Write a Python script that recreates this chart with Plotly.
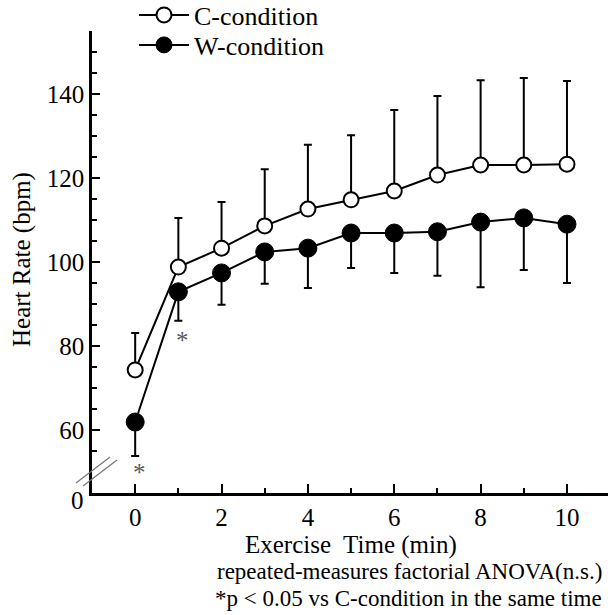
import plotly.graph_objects as go

# ---- data ----
time_min = [0, 1, 2, 3, 4, 5, 6, 7, 8, 9, 10]
c_mean = [74.3, 98.8, 103.3, 108.6, 112.6, 114.8, 116.9, 120.7, 123.1, 123.1, 123.3]
c_sd = [8.8, 11.7, 11.0, 13.5, 15.3, 15.4, 19.3, 18.8, 20.2, 20.7, 19.8]
w_mean = [61.9, 92.9, 97.4, 102.4, 103.3, 106.9, 106.9, 107.2, 109.5, 110.5, 109.0]
w_sd = [8.1, 6.9, 7.6, 7.6, 9.5, 8.3, 9.5, 10.5, 15.5, 12.4, 14.0]
sig_times = [0, 1]
sig_y = [50.0, 81.3]

x_ticks = [0, 2, 4, 6, 8, 10]
x_minor = [1, 3, 5, 7, 9]
y_ticks = [60, 80, 100, 120, 140]
y_minor = [55, 65, 70, 75, 85, 90, 95, 105, 110, 115, 125, 130, 135, 145, 150, 155]

FONT = "Liberation Serif"
zeros = [0] * len(time_min)

L, T, PW, PH = 92, 31, 516, 462


def px(xp):
    return (xp - L) / PW


def py(yp):
    return (T + PH - yp) / PH


fig = go.Figure()
fig.add_trace(go.Scatter(
    x=time_min, y=w_mean, name="W-condition", mode="lines+markers", legend="legend2",
    line=dict(color="black", width=2),
    marker=dict(symbol="circle", size=18, color="black", line=dict(color="black", width=1)),
    error_y=dict(type="data", symmetric=False, array=zeros, arrayminus=w_sd,
                 color="black", thickness=2, width=4),
))
fig.add_trace(go.Scatter(
    x=time_min, y=c_mean, name="C-condition", mode="lines+markers", legend="legend",
    line=dict(color="black", width=2),
    marker=dict(symbol="circle", size=15, color="white", line=dict(color="black", width=2)),
    error_y=dict(type="data", symmetric=False, array=c_sd, arrayminus=zeros,
                 color="black", thickness=2, width=4),
))

for xs, ys in zip(sig_times, sig_y):
    fig.add_annotation(x=xs + 0.1, y=ys, text="*", showarrow=False,
                       font=dict(family=FONT, size=25, color="#5a5a5a"),
                       xanchor="center", yanchor="middle")

# axis break marks
fig.add_shape(type="line", xref="paper", yref="paper",
              x0=px(76), y0=py(483), x1=px(110), y1=py(457),
              line=dict(color="#777777", width=1.2))
fig.add_shape(type="line", xref="paper", yref="paper",
              x0=px(83), y0=py(486), x1=px(117), y1=py(460),
              line=dict(color="#777777", width=1.2))

# "0" label at axis bottom
fig.add_annotation(xref="paper", yref="paper", x=px(77), y=py(500),
                   text="0", showarrow=False, xanchor="center", yanchor="middle",
                   font=dict(family=FONT, size=25, color="black"))

# axis titles
fig.add_annotation(xref="paper", yref="paper", x=px(351), y=py(545),
                   text="Exercise\u00a0 Time (min)", showarrow=False, xanchor="center", yanchor="middle",
                   font=dict(family=FONT, size=25, color="black"))
fig.add_annotation(xref="paper", yref="paper", x=px(22), y=py(260),
                   text="Heart Rate (bpm)", showarrow=False, textangle=-90,
                   xanchor="center", yanchor="middle",
                   font=dict(family=FONT, size=25, color="black"))

# footnotes
fig.add_annotation(xref="paper", yref="paper", x=px(215), y=py(571),
                   text="repeated-measures factorial ANOVA(n.s.)", showarrow=False,
                   xanchor="left", yanchor="middle", font=dict(family=FONT, size=23, color="black"))
fig.add_annotation(xref="paper", yref="paper", x=px(213), y=py(598),
                   text="*p < 0.05 vs C-condition in the same time", showarrow=False,
                   xanchor="left", yanchor="middle", font=dict(family=FONT, size=23, color="black"))

fig.update_xaxes(range=[-1, 10.95], tickvals=x_ticks, ticktext=[str(v) for v in x_ticks],
                 ticks="inside", ticklen=9, tickwidth=2, tickcolor="black",
                 minor=dict(tickvals=x_minor, ticks="inside", ticklen=5, tickwidth=2, tickcolor="black"),
                 showline=True, linecolor="black", linewidth=2.5, showgrid=False, zeroline=False,
                 tickfont=dict(family=FONT, size=25, color="black"))
fig.update_yaxes(range=[45, 155], tickvals=y_ticks, ticktext=[str(v) for v in y_ticks],
                 ticks="inside", ticklen=8, tickwidth=2, tickcolor="black",
                 minor=dict(tickvals=y_minor, ticks="inside", ticklen=5, tickwidth=2, tickcolor="black"),
                 showline=True, linecolor="black", linewidth=2.5, showgrid=False, zeroline=False,
                 tickfont=dict(family=FONT, size=25, color="black"))

leg_common = dict(xanchor="left", yanchor="middle", font=dict(family=FONT, size=26, color="black"),
                  bgcolor="rgba(0,0,0,0)", itemwidth=50)
fig.update_layout(
    width=608, height=615,
    margin=dict(l=L, r=0, t=T, b=615 - T - PH, autoexpand=False),
    plot_bgcolor="white", paper_bgcolor="white",
    showlegend=True,
    legend=dict(x=px(134), y=py(15), **leg_common),
    legend2=dict(x=px(134), y=py(45), **leg_common),
    font=dict(family=FONT, color="black"),
)

fig.write_html("out.html", config={"displayModeBar": False},
               post_script="document.body.style.margin='0';document.body.style.padding='0';")
